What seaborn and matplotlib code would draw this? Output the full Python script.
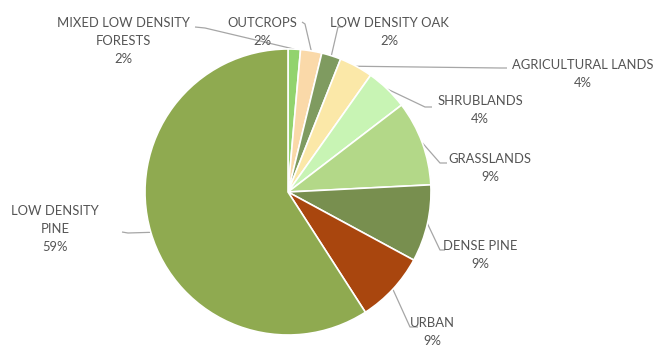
import matplotlib
matplotlib.use("Agg")
import matplotlib.pyplot as plt
import seaborn as sns
import numpy as np

categories = ["MIXED LOW DENSITY\nFORESTS", "OUTCROPS", "LOW DENSITY OAK",
              "AGRICULTURAL LANDS", "SHRUBLANDS", "GRASSLANDS",
              "DENSE PINE", "URBAN", "LOW DENSITY\nPINE"]
values = [1.4, 2.4, 2.2, 3.8, 4.8, 9.6, 8.7, 8.0, 59.1]
pct_labels = ["2%", "2%", "2%", "4%", "4%", "9%", "9%", "9%", "59%"]
colors = ["#92D36E", "#FAD9A9", "#7F9B60", "#FBE8A8", "#C8F4B4",
          "#B3D888", "#788F4F", "#A9460E", "#8FAA50"]

sns.set_theme(style="white")
plt.rcParams['font.family'] = ['Lato', 'DejaVu Sans']

W, H = 671, 347
fig = plt.figure(figsize=(W / 100, H / 100), dpi=100)
ax = fig.add_axes([0, 0, 1, 1])
cx, cy, R = 288, 192, 143

def px(x, y):
    return ((x - cx) / R, (cy - y) / R)

wedges, _ = ax.pie(values, colors=colors, startangle=90, counterclock=False,
                   radius=1.0, wedgeprops=dict(edgecolor='white', linewidth=1.2))

ax.set_xlim(-cx / R, (W - cx) / R)
ax.set_ylim(-(H - cy) / R, cy / R)
ax.set_aspect('equal')
ax.axis('off')

# label layout (pixel positions): text center, line anchor, elbow
layout = [
    ((123, 41), (195, 27), (205, 28)),
    ((262, 32), (302, 22), (305, 24)),
    ((389, 32), (343, 27), (338, 27)),
    ((583, 74), (507, 68), (500, 68)),
    ((480, 110), (432, 107), (425, 107)),
    ((490, 168), (447, 163), (440, 163)),
    ((480, 255), (445, 250), (440, 250)),
    ((432, 332), (418, 327), (410, 327)),
    ((55, 229), (122, 232), (128, 233)),
]

txtcol = "#545454"
for w, cat, pl, (tc, anc, elb) in zip(wedges, categories, pct_labels, layout):
    mid = np.deg2rad((w.theta1 + w.theta2) / 2)
    tx, ty = np.cos(mid) * 1.0, np.sin(mid) * 1.0
    ax.text(*px(*tc), cat + "\n" + pl, ha='center', va='center',
            fontsize=9.4, color=txtcol, linespacing=1.6)
    a = px(*anc)
    e = px(*elb)
    ax.plot([a[0], e[0], tx], [a[1], e[1], ty], color="#A6A6A6", lw=0.9,
            solid_capstyle='butt', zorder=0.5)

fig.savefig("out.png", dpi=100, facecolor='white')
